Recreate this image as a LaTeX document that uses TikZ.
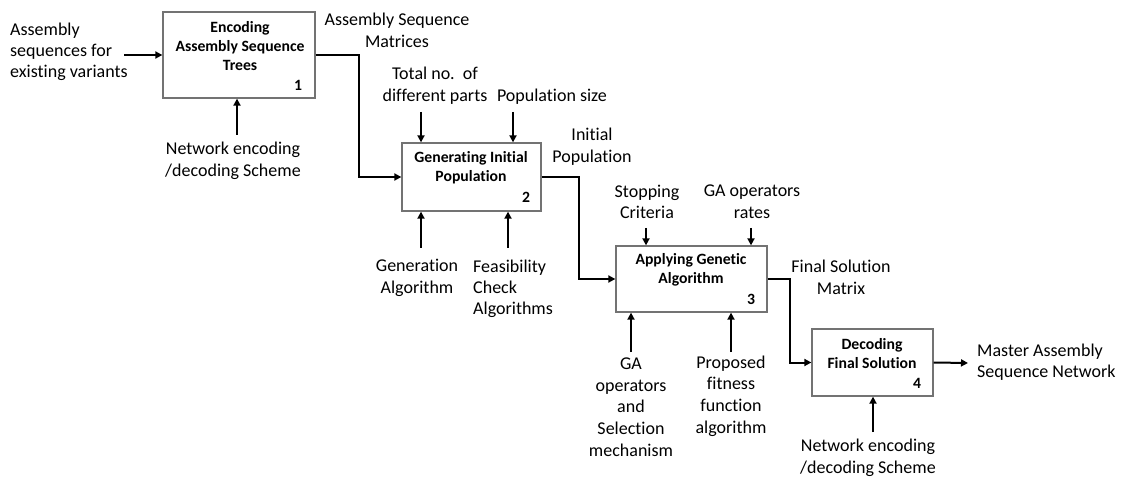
\documentclass[tikz,border=0pt]{standalone}
\usepackage{fontspec}
\setmainfont{Carlito}[Ligatures=NoCommon]
\usetikzlibrary{arrows.meta,calc}
\begin{document}
\begin{tikzpicture}[x=1pt,y=-1pt,
  boxnode/.style={draw=black!55,line width=1.3pt,fill=white,inner sep=0pt},
  titletext/.style={font=\bfseries\fontsize{15.7}{19}\selectfont,align=center,inner sep=0pt},
  numtext/.style={font=\bfseries\fontsize{15.7}{19}\selectfont,inner sep=0pt},
  lbl/.style={font=\fontsize{18}{21.7}\selectfont,align=center,inner sep=0pt},
  lbll/.style={font=\fontsize{18}{21.2}\selectfont,align=left,inner sep=0pt,anchor=west},
  flow/.style={line width=2pt,-{Triangle[length=7pt,width=7pt]}}]
\useasboundingbox (0,0) rectangle (1126,478);

% boxes
\node[boxnode,minimum width=152pt,minimum height=86pt] (b1) at (239,55) {};
\node[boxnode,minimum width=139pt,minimum height=68pt] (b2) at (471.5,177) {};
\node[boxnode,minimum width=151pt,minimum height=66pt] (b3) at (691.5,279) {};
\node[boxnode,minimum width=121pt,minimum height=67pt] (b4) at (872.5,362.5) {};

% titles
\node[titletext] (t1) at (240,46) {Encoding\\Assembly Sequence\\Trees};
\node[titletext] (t2) at (471,167.5) {Generating Initial\\Population};
\node[titletext] (t3) at (691,269.5) {Applying Genetic\\Algorithm};
\node[titletext] (t4) at (872,353.5) {Decoding\\Final Solution};
\node[numtext] (n1) at (298,85) {1};
\node[numtext] (n2) at (526,197) {2};
\node[numtext] (n3) at (751,299) {3};
\node[numtext] (n4) at (917,383) {4};

% labels
\node[lbll] (l0) at (10,52) {Assembly\\sequences for\\existing variants};
\node[lbl] (l1) at (397,30) {Assembly Sequence\\Matrices};
\node[lbl] (l2) at (233,161) {Network encoding\\/decoding Scheme};
\node[lbl] (l3) at (435,86) {Total no.\ \ of\\different parts};
\node[lbl] (l4) at (552,97) {Population size};
\node[lbl] (l5) at (592,147) {Initial\\Population};
\node[lbl] (l6) at (417,278) {Generation\\Algorithm};
\node[lbll] (l7) at (473,289) {Feasibility\\Check\\Algorithms};
\node[lbl] (l8) at (647,202) {Stopping\\Criteria};
\node[lbl] (l9) at (752,202) {GA operators\\rates};
\node[lbl] (l10) at (631,407) {GA\\operators\\and\\Selection\\mechanism};
\node[lbl] (l11) at (731,396) {Proposed\\fitness\\function\\algorithm};
\node[lbl] (l12) at (841,277) {Final Solution\\Matrix};
\node[lbll] (l13) at (977,362.5) {Master Assembly\\Sequence Network};
\node[lbl] (l14) at (868,458) {Network encoding\\/decoding Scheme};

% free ends
\coordinate (in1) at (124,55);
\coordinate (c1) at (237,135);
\coordinate (c2a) at (421,112);
\coordinate (c2b) at (513,112);
\coordinate (m2a) at (421,248);
\coordinate (m2b) at (508,248);
\coordinate (c3a) at (646,228);
\coordinate (c3b) at (751,228);
\coordinate (m3a) at (631,352);
\coordinate (m3b) at (731,352);
\coordinate (m4) at (873,432);
\coordinate (out4) at (968,363);

% flows
\draw[flow] (in1) -- (b1.west);
\draw[flow] (b1.east) -- ++(43,0) |- (b2.west);
\draw[flow] (b2.east) -- ++(37,0) |- (b3.west);
\draw[flow] (b3.east) -- ++(22,0) |- (b4.west);
\draw[flow] (b4.east) -- (out4);

% controls and mechanisms
\draw[flow] (c1) -- (c1 |- b1.south);
\draw[flow] (c2a) -- (c2a |- b2.north);
\draw[flow] (c2b) -- (c2b |- b2.north);
\draw[flow] (m2a) -- (m2a |- b2.south);
\draw[flow] (m2b) -- (m2b |- b2.south);
\draw[flow] (c3a) -- (c3a |- b3.north);
\draw[flow] (c3b) -- (c3b |- b3.north);
\draw[flow] (m3a) -- (m3a |- b3.south);
\draw[flow] (m3b) -- (m3b |- b3.south);
\draw[flow] (m4) -- (m4 |- b4.south);
\end{tikzpicture}
\end{document}
